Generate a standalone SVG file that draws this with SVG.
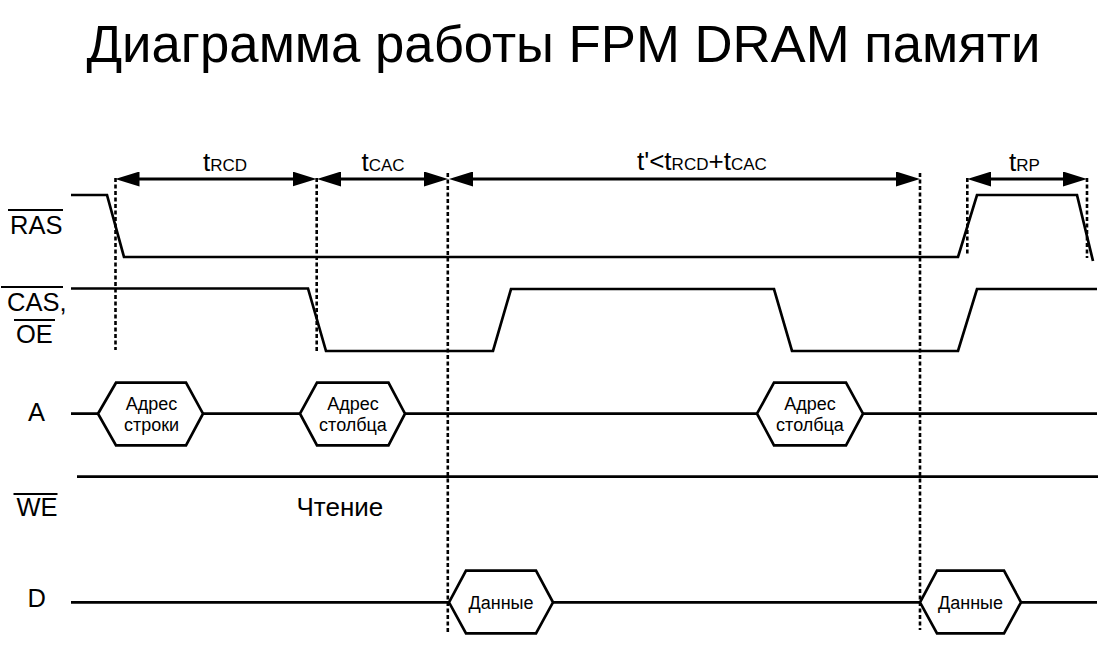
<svg xmlns="http://www.w3.org/2000/svg" width="1111" height="660" viewBox="0 0 1111 660">
<style>
text{font-family:"Liberation Sans",Arial,sans-serif;fill:#000}
.title{font-size:52.7px}
.lbl{font-size:25.5px}
.tm{font-size:26px}
.sub{font-size:17px}
.hx{font-size:18px}
.sig{fill:none;stroke:#000;stroke-width:2.7;stroke-linejoin:miter}
.hex{fill:#fff;stroke:#000;stroke-width:2.7;stroke-linejoin:miter}
.ov{stroke:#000;stroke-width:2}
.dash{stroke:#000;stroke-width:2.6;stroke-dasharray:4 2.5;fill:none}
.arr{stroke:#000;stroke-width:3;fill:none}
</style>
<defs>
<marker id="ah" viewBox="0 0 24 15" markerWidth="24" markerHeight="15" refX="14" refY="7.5" orient="auto-start-reverse" markerUnits="userSpaceOnUse">
<path d="M0,0 L24,7.5 L0,15 Z" fill="#000"/>
</marker>
</defs>
<rect width="1111" height="660" fill="#fff"/>
<g id="title">
<text class="title" x="563.4" y="62" text-anchor="middle">Диаграмма работы FPM DRAM памяти</text>
</g>
<g id="labels">
<g id="lbl-ras"><text class="lbl" x="10" y="234">RAS</text><line class="ov" x1="8" y1="210" x2="63" y2="210"/></g>
<g id="lbl-cas"><text class="lbl" x="7" y="311">CAS,</text><line class="ov" x1="1" y1="287" x2="63" y2="287"/>
<text class="lbl" x="16" y="342.7">OE</text><line class="ov" x1="14" y1="320" x2="55" y2="320"/></g>
<g id="lbl-a"><text class="lbl" x="28" y="420.7">A</text></g>
<g id="lbl-we"><text class="lbl" x="16.5" y="515.7">WE</text><line class="ov" x1="13.5" y1="494" x2="57.5" y2="494"/></g>
<g id="lbl-d"><text class="lbl" x="27.5" y="607.3">D</text></g>
</g>
<g id="sig-ras"><path class="sig" d="M71,195 H107 L124,257 H958 L977,195 H1077 L1093,261"/></g>
<g id="sig-cas"><path class="sig" d="M71,288.5 H308 L326,351 H493 L511,289 H774 L792,351 H958 L977,289 H1097"/></g>
<g id="sig-a"><path class="sig" d="M71,413.7 H98 M203,413.7 H300 M405,413.7 H757 M863,413.7 H1097"/></g>
<g id="sig-we"><path class="sig" d="M77,476.7 H1098"/>
<text class="tm" x="296.5" y="515.7">Чтение</text></g>
<g id="sig-d"><path class="sig" d="M71,602.3 H449 M553,602.3 H920 M1021,602.3 H1097"/></g>
<g id="connectors">
<line class="dash" x1="115.5" y1="178" x2="115.5" y2="350"/>
<line class="dash" x1="316.7" y1="178" x2="316.7" y2="352"/>
<line class="dash" x1="447.8" y1="173" x2="447.8" y2="634"/>
<line class="dash" x1="920" y1="173" x2="920" y2="630"/>
<line class="dash" x1="967.3" y1="178" x2="967.3" y2="256"/>
<line class="dash" x1="1087" y1="178" x2="1087" y2="258"/>
<line class="arr" x1="125.5" y1="179" x2="306.5" y2="179" marker-start="url(#ah)" marker-end="url(#ah)"/>
<line class="arr" x1="327" y1="179" x2="438" y2="179" marker-start="url(#ah)" marker-end="url(#ah)"/>
<line class="arr" x1="459" y1="179" x2="910" y2="179" marker-start="url(#ah)" marker-end="url(#ah)"/>
<line class="arr" x1="977.3" y1="179" x2="1077" y2="179" marker-start="url(#ah)" marker-end="url(#ah)"/>
</g>
<g id="timings">
<text class="tm" x="203" y="171">t<tspan class="sub">RCD</tspan></text>
<text class="tm" x="361.5" y="171">t<tspan class="sub">CAC</tspan></text>
<text class="tm" x="637" y="170">t'&lt;t<tspan class="sub">RCD</tspan>+t<tspan class="sub">CAC</tspan></text>
<text class="tm" x="1009" y="171">t<tspan class="sub">RP</tspan></text>
</g>
<g id="hex-row-addr">
<path class="hex" d="M98,413.7 L116,382.7 H186 L203,413.7 L186,445.3 H116 Z"/>
<text class="hx" x="151.5" y="410" text-anchor="middle">Адрес</text>
<text class="hx" x="151.5" y="431" text-anchor="middle">строки</text>
</g>
<g id="hex-col-addr-1">
<path class="hex" d="M300,413.7 L317,382.7 H388.5 L405,413.7 L388.5,445.3 H317 Z"/>
<text class="hx" x="353" y="410" text-anchor="middle">Адрес</text>
<text class="hx" x="353" y="431" text-anchor="middle">столбца</text>
</g>
<g id="hex-col-addr-2">
<path class="hex" d="M757,413.7 L774,382.7 H846 L863,413.7 L846,445.3 H774 Z"/>
<text class="hx" x="810" y="410" text-anchor="middle">Адрес</text>
<text class="hx" x="810" y="431" text-anchor="middle">столбца</text>
</g>
<g id="hex-data-1">
<path class="hex" d="M449,602.3 L466,570.7 H536 L553,602.3 L536,633.3 H466 Z"/>
<text class="hx" x="501" y="608.5" text-anchor="middle">Данные</text>
</g>
<g id="hex-data-2">
<path class="hex" d="M920,602.3 L937,570.7 H1004 L1021,602.3 L1004,633.3 H937 Z"/>
<text class="hx" x="970.5" y="608.5" text-anchor="middle">Данные</text>
</g>
</svg>
